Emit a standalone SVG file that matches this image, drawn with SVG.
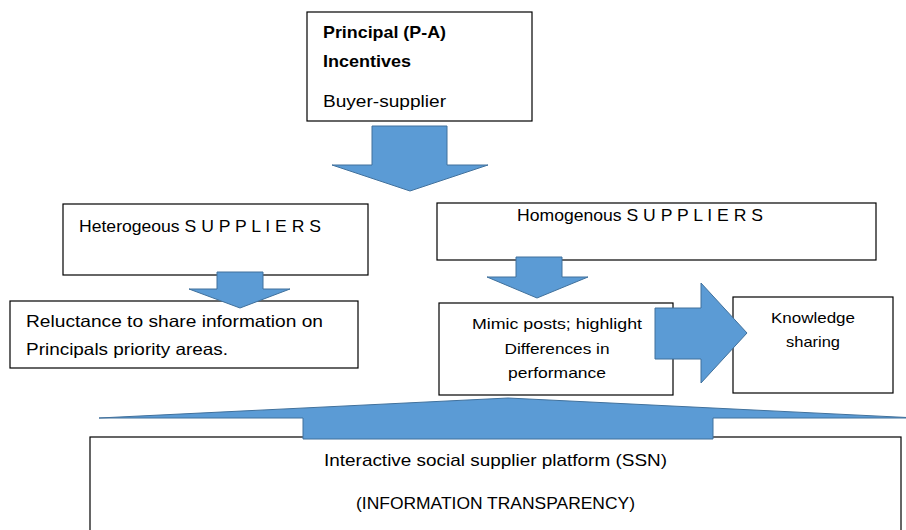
<svg xmlns="http://www.w3.org/2000/svg" width="906" height="530" viewBox="0 0 906 530">
<style>
.box{fill:#fff;stroke:#000;stroke-width:1.2}
.t{font-family:"Liberation Sans",Arial,sans-serif;font-size:16.5px;fill:#000}
.s{font-size:15px}
.l{font-size:17px}
.b{font-weight:bold}
.arr{fill:#5B9BD5;stroke:#41719C;stroke-width:1}
</style>
<rect width="906" height="530" fill="#fff"/>
<g id="principal">
<rect class="box" x="307" y="12" width="225" height="109"/>
<text class="t b" x="323" y="38" textLength="123" lengthAdjust="spacingAndGlyphs">Principal (P-A)</text>
<text class="t b" x="323" y="67" textLength="88" lengthAdjust="spacingAndGlyphs">Incentives</text>
<text class="t" x="323" y="107" textLength="123" lengthAdjust="spacingAndGlyphs">Buyer-supplier</text>
</g>
<g id="heterogeneous">
<rect class="box" x="63" y="204" width="305" height="71"/>
<text class="t" x="79" y="232" textLength="242" lengthAdjust="spacingAndGlyphs">Heterogeous S U P P L I E R S</text>
</g>
<g id="homogeneous">
<rect class="box" x="437" y="203" width="439" height="57"/>
<text class="t" x="517" y="221" textLength="246" lengthAdjust="spacingAndGlyphs">Homogenous S U P P L I E R S</text>
</g>
<g id="reluctance">
<rect class="box" x="10" y="301" width="348" height="67"/>
<text class="t" x="26" y="327" textLength="297" lengthAdjust="spacingAndGlyphs">Reluctance to share information on</text>
<text class="t" x="26" y="355" textLength="202" lengthAdjust="spacingAndGlyphs">Principals priority areas.</text>
</g>
<g id="mimic">
<rect class="box" x="439" y="303" width="234" height="92"/>
<text class="t s" x="557" y="329" text-anchor="middle" textLength="170" lengthAdjust="spacingAndGlyphs">Mimic posts; highlight</text>
<text class="t s" x="557" y="354" text-anchor="middle" textLength="105" lengthAdjust="spacingAndGlyphs">Differences in</text>
<text class="t s" x="557" y="378" text-anchor="middle" textLength="98" lengthAdjust="spacingAndGlyphs">performance</text>
</g>
<g id="knowledge">
<rect class="box" x="733" y="297" width="160" height="96"/>
<text class="t s" x="813" y="323" text-anchor="middle" textLength="84" lengthAdjust="spacingAndGlyphs">Knowledge</text>
<text class="t s" x="813" y="347" text-anchor="middle" textLength="54" lengthAdjust="spacingAndGlyphs">sharing</text>
</g>
<g id="platform">
<rect class="box" x="90" y="437" width="811" height="110"/>
<text class="t l" x="495.5" y="466" text-anchor="middle" textLength="343" lengthAdjust="spacingAndGlyphs">Interactive social supplier platform (SSN)</text>
<text class="t l" x="495.5" y="509" text-anchor="middle" textLength="279" lengthAdjust="spacingAndGlyphs">(INFORMATION TRANSPARENCY)</text>
</g>
<g id="connectors">
<polygon class="arr" points="372,126 447,126 447,165 488,165 410,191 332,165 372,165"/>
<polygon class="arr" points="217,272 263,272 263,289 290,289 240,308 189,289 217,289"/>
<polygon class="arr" points="516,257 562,257 562,277 588,277 537,298 487,277 516,277"/>
<polygon class="arr" points="655,308 701,308 701,283 747,333 701,383 701,359 655,359"/>
<polygon class="arr" points="303,439 303,418 99,418 508,398 917,418 713,418 713,439"/>
</g>
</svg>
